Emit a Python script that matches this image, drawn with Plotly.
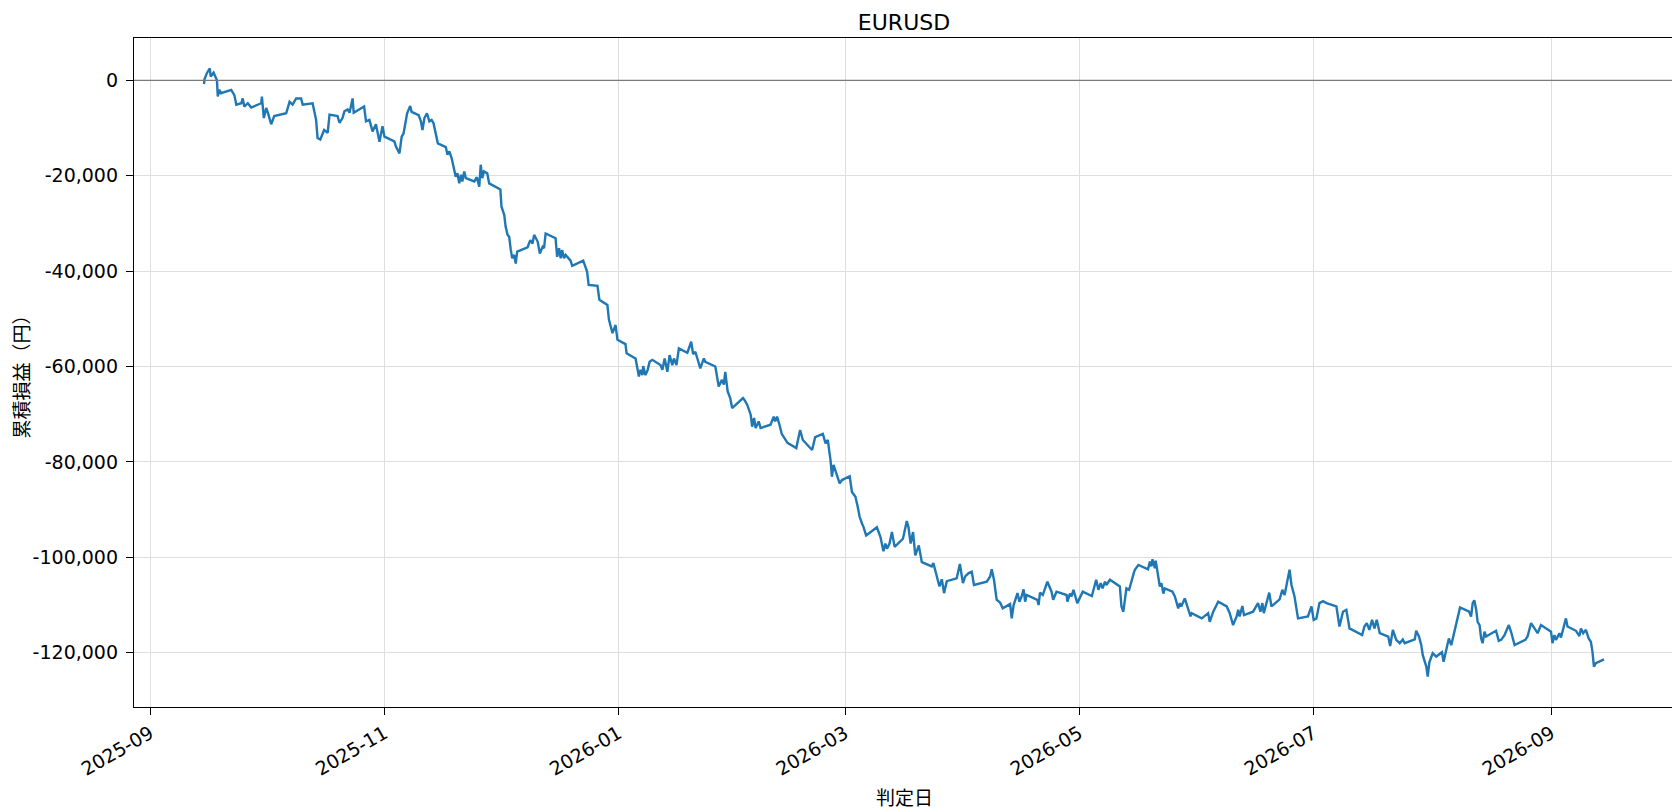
import pandas as pd
import plotly.graph_objects as go

title = "EURUSD"
x_label = "判定日"
y_label = "累積損益（円）"

# cumulative P/L per judgement time (yen)
dates = [
    "2025-09-15 00:00", "2025-09-15 03:00", "2025-09-15 18:00", "2025-09-16 12:00", "2025-09-16 18:00",
    "2025-09-17 12:00", "2025-09-18 09:00", "2025-09-18 14:00", "2025-09-19 00:00", "2025-09-19 10:00",
    "2025-09-22 02:00", "2025-09-22 22:00", "2025-09-23 10:00", "2025-09-24 17:00", "2025-09-25 02:00",
    "2025-09-25 12:00", "2025-09-26 10:00", "2025-09-27 07:00", "2025-09-29 22:00", "2025-09-30 02:00",
    "2025-09-30 14:00", "2025-10-01 05:00", "2025-10-01 19:00", "2025-10-02 12:00", "2025-10-03 07:00",
    "2025-10-06 10:00", "2025-10-07 07:00", "2025-10-08 02:00", "2025-10-09 00:00", "2025-10-10 07:00",
    "2025-10-10 17:00", "2025-10-13 07:00", "2025-10-14 05:00", "2025-10-14 14:00", "2025-10-15 07:00",
    "2025-10-16 07:00", "2025-10-17 05:00", "2025-10-17 17:00", "2025-10-19 19:00", "2025-10-20 07:00",
    "2025-10-21 02:00", "2025-10-21 14:00", "2025-10-22 10:00", "2025-10-22 22:00", "2025-10-23 17:00",
    "2025-10-24 00:00", "2025-10-26 17:00", "2025-10-27 05:00", "2025-10-28 02:00", "2025-10-28 22:00",
    "2025-10-29 19:00", "2025-10-30 17:00", "2025-10-31 12:00", "2025-11-01 00:00", "2025-11-03 14:00",
    "2025-11-04 00:00", "2025-11-04 22:00", "2025-11-05 12:00", "2025-11-06 00:00", "2025-11-06 22:00",
    "2025-11-07 17:00", "2025-11-08 02:00", "2025-11-09 22:00", "2025-11-10 12:00", "2025-11-10 22:00",
    "2025-11-11 10:00", "2025-11-12 02:00", "2025-11-12 17:00", "2025-11-13 07:00", "2025-11-13 19:00",
    "2025-11-14 22:00", "2025-11-17 00:00", "2025-11-17 10:00", "2025-11-17 22:00", "2025-11-18 12:00",
    "2025-11-19 05:00", "2025-11-19 14:00", "2025-11-20 00:00", "2025-11-20 12:00", "2025-11-20 22:00",
    "2025-11-21 07:00", "2025-11-21 19:00", "2025-11-22 05:00", "2025-11-24 10:00", "2025-11-25 02:00",
    "2025-11-25 17:00", "2025-11-26 02:00", "2025-11-26 12:00", "2025-11-26 22:00", "2025-11-27 19:00",
    "2025-11-28 07:00", "2025-12-01 05:00", "2025-12-01 12:00", "2025-12-02 05:00", "2025-12-02 14:00",
    "2025-12-03 02:00", "2025-12-03 12:00", "2025-12-03 22:00", "2025-12-04 07:00", "2025-12-04 19:00",
    "2025-12-05 05:00", "2025-12-05 14:00", "2025-12-08 07:00", "2025-12-09 00:00", "2025-12-09 14:00",
    "2025-12-10 00:00", "2025-12-10 22:00", "2025-12-11 12:00", "2025-12-12 05:00", "2025-12-12 14:00",
    "2025-12-13 00:00", "2025-12-15 14:00", "2025-12-16 00:00", "2025-12-16 12:00", "2025-12-16 22:00",
    "2025-12-17 07:00", "2025-12-17 19:00", "2025-12-18 05:00", "2025-12-19 12:00", "2025-12-19 22:00",
    "2025-12-22 19:00", "2025-12-23 19:00", "2025-12-24 05:00", "2025-12-26 12:00", "2025-12-27 00:00",
    "2025-12-29 02:00", "2025-12-29 12:00", "2025-12-30 10:00", "2025-12-31 05:00", "2025-12-31 17:00",
    "2026-01-02 19:00", "2026-01-03 02:00", "2026-01-05 10:00", "2026-01-06 07:00", "2026-01-06 17:00",
    "2026-01-07 05:00", "2026-01-07 10:00", "2026-01-08 00:00", "2026-01-08 14:00", "2026-01-09 02:00",
    "2026-01-09 19:00", "2026-01-11 22:00", "2026-01-12 10:00", "2026-01-13 00:00", "2026-01-13 17:00",
    "2026-01-14 07:00", "2026-01-15 00:00", "2026-01-15 10:00", "2026-01-16 02:00", "2026-01-16 17:00",
    "2026-01-18 22:00", "2026-01-19 22:00", "2026-01-20 10:00", "2026-01-21 00:00", "2026-01-22 07:00",
    "2026-01-23 05:00", "2026-01-23 14:00", "2026-01-26 05:00", "2026-01-27 02:00", "2026-01-27 22:00",
    "2026-01-28 10:00", "2026-01-28 19:00", "2026-01-29 10:00", "2026-01-30 02:00", "2026-01-30 14:00",
    "2026-01-31 00:00", "2026-02-02 10:00", "2026-02-02 19:00", "2026-02-03 12:00", "2026-02-04 10:00",
    "2026-02-04 19:00", "2026-02-05 07:00", "2026-02-05 17:00", "2026-02-06 12:00", "2026-02-07 00:00",
    "2026-02-09 14:00", "2026-02-10 10:00", "2026-02-10 19:00", "2026-02-11 07:00", "2026-02-11 22:00",
    "2026-02-12 12:00", "2026-02-14 00:00", "2026-02-16 07:00", "2026-02-16 22:00", "2026-02-17 07:00",
    "2026-02-18 00:00", "2026-02-20 10:00", "2026-02-21 05:00", "2026-02-23 05:00", "2026-02-23 22:00",
    "2026-02-24 12:00", "2026-02-25 05:00", "2026-02-25 14:00", "2026-02-26 00:00", "2026-02-26 17:00",
    "2026-02-27 14:00", "2026-02-28 05:00", "2026-03-02 05:00", "2026-03-02 19:00", "2026-03-03 17:00",
    "2026-03-04 07:00", "2026-03-04 19:00", "2026-03-05 10:00", "2026-03-05 19:00", "2026-03-06 12:00",
    "2026-03-09 07:00", "2026-03-10 05:00", "2026-03-11 00:00", "2026-03-11 12:00", "2026-03-11 22:00",
    "2026-03-12 14:00", "2026-03-13 05:00", "2026-03-13 22:00", "2026-03-16 02:00", "2026-03-17 02:00",
    "2026-03-17 12:00", "2026-03-18 02:00", "2026-03-18 17:00", "2026-03-19 07:00", "2026-03-20 05:00",
    "2026-03-21 00:00", "2026-03-23 14:00", "2026-03-24 00:00", "2026-03-24 22:00", "2026-03-25 14:00",
    "2026-03-26 05:00", "2026-03-26 19:00", "2026-03-27 12:00", "2026-03-30 02:00", "2026-03-30 22:00",
    "2026-03-31 17:00", "2026-04-01 07:00", "2026-04-02 05:00", "2026-04-03 00:00", "2026-04-03 14:00",
    "2026-04-06 22:00", "2026-04-07 19:00", "2026-04-08 05:00", "2026-04-08 19:00", "2026-04-09 12:00",
    "2026-04-10 10:00", "2026-04-11 02:00", "2026-04-13 00:00", "2026-04-13 10:00", "2026-04-13 22:00",
    "2026-04-14 22:00", "2026-04-15 10:00", "2026-04-16 00:00", "2026-04-16 12:00", "2026-04-16 22:00",
    "2026-04-17 07:00", "2026-04-20 02:00", "2026-04-20 10:00", "2026-04-20 19:00", "2026-04-21 12:00",
    "2026-04-22 17:00", "2026-04-23 19:00", "2026-04-24 05:00", "2026-04-25 02:00", "2026-04-27 17:00",
    "2026-04-27 22:00", "2026-04-28 14:00", "2026-04-29 00:00", "2026-04-29 12:00", "2026-04-30 12:00",
    "2026-05-01 22:00", "2026-05-04 07:00", "2026-05-05 10:00", "2026-05-06 00:00", "2026-05-06 14:00",
    "2026-05-07 02:00", "2026-05-07 17:00", "2026-05-08 02:00", "2026-05-09 00:00", "2026-05-11 14:00",
    "2026-05-12 00:00", "2026-05-12 12:00", "2026-05-13 07:00", "2026-05-14 00:00", "2026-05-15 05:00",
    "2026-05-15 12:00", "2026-05-16 10:00", "2026-05-18 22:00", "2026-05-19 10:00", "2026-05-19 19:00",
    "2026-05-20 02:00", "2026-05-20 17:00", "2026-05-20 22:00", "2026-05-21 14:00", "2026-05-22 00:00",
    "2026-05-22 10:00", "2026-05-22 22:00", "2026-05-23 07:00", "2026-05-25 07:00", "2026-05-25 22:00",
    "2026-05-26 19:00", "2026-05-27 05:00", "2026-05-27 14:00", "2026-05-28 12:00", "2026-05-29 10:00",
    "2026-05-30 00:00", "2026-05-30 07:00", "2026-06-01 22:00", "2026-06-03 14:00", "2026-06-04 00:00",
    "2026-06-04 22:00", "2026-06-06 05:00", "2026-06-08 10:00", "2026-06-09 05:00", "2026-06-10 02:00",
    "2026-06-11 00:00", "2026-06-11 10:00", "2026-06-11 19:00", "2026-06-12 12:00", "2026-06-12 22:00",
    "2026-06-15 07:00", "2026-06-16 14:00", "2026-06-17 05:00", "2026-06-17 17:00", "2026-06-18 02:00",
    "2026-06-19 12:00", "2026-06-20 02:00", "2026-06-22 05:00", "2026-06-22 22:00", "2026-06-23 12:00",
    "2026-06-24 19:00", "2026-06-25 07:00", "2026-06-26 02:00", "2026-06-27 00:00", "2026-06-29 14:00",
    "2026-06-30 12:00", "2026-07-01 02:00", "2026-07-01 19:00", "2026-07-02 14:00", "2026-07-03 12:00",
    "2026-07-04 10:00", "2026-07-07 00:00", "2026-07-07 19:00", "2026-07-08 17:00", "2026-07-09 14:00",
    "2026-07-10 10:00", "2026-07-13 17:00", "2026-07-14 07:00", "2026-07-14 22:00", "2026-07-15 14:00",
    "2026-07-16 07:00", "2026-07-16 22:00", "2026-07-17 12:00", "2026-07-18 07:00", "2026-07-20 12:00",
    "2026-07-21 00:00", "2026-07-21 17:00", "2026-07-22 14:00", "2026-07-23 12:00", "2026-07-24 07:00",
    "2026-07-24 19:00", "2026-07-27 10:00", "2026-07-27 19:00", "2026-07-28 12:00", "2026-07-29 02:00",
    "2026-07-29 12:00", "2026-07-30 10:00", "2026-07-30 19:00", "2026-07-31 05:00", "2026-07-31 17:00",
    "2026-08-01 02:00", "2026-08-02 00:00", "2026-08-03 12:00", "2026-08-03 22:00", "2026-08-04 10:00",
    "2026-08-04 19:00", "2026-08-05 07:00", "2026-08-05 22:00", "2026-08-06 19:00", "2026-08-07 05:00",
    "2026-08-08 05:00", "2026-08-10 14:00", "2026-08-11 02:00", "2026-08-11 12:00", "2026-08-11 22:00",
    "2026-08-12 10:00", "2026-08-12 19:00", "2026-08-13 07:00", "2026-08-13 17:00", "2026-08-14 02:00",
    "2026-08-14 14:00", "2026-08-15 00:00", "2026-08-17 14:00", "2026-08-18 07:00", "2026-08-18 22:00",
    "2026-08-19 19:00", "2026-08-20 10:00", "2026-08-20 22:00", "2026-08-21 12:00", "2026-08-22 10:00",
    "2026-08-25 05:00", "2026-08-25 19:00", "2026-08-26 17:00", "2026-08-27 14:00", "2026-08-28 10:00",
    "2026-08-29 07:00", "2026-08-31 22:00", "2026-09-01 07:00", "2026-09-01 19:00", "2026-09-02 05:00",
    "2026-09-03 02:00", "2026-09-03 12:00", "2026-09-04 10:00", "2026-09-04 19:00", "2026-09-05 05:00",
    "2026-09-07 10:00", "2026-09-08 07:00", "2026-09-08 17:00", "2026-09-09 07:00", "2026-09-10 00:00",
    "2026-09-10 17:00", "2026-09-11 07:00", "2026-09-11 17:00", "2026-09-12 02:00", "2026-09-12 14:00",
    "2026-09-14 17:00",
]

pnl = [
    -800, 200, 1500, 2500, 800,
    1600, 0, -3400, -2000, -2700,
    -2000, -3100, -5100, -4800, -3800,
    -5500, -4800, -5700, -4800, -3400,
    -7900, -5800, -7200, -9200, -7500,
    -6900, -4500, -5100, -3800, -3800,
    -5100, -4800, -8300, -12100, -12400,
    -10400, -11000, -7200, -7500, -8900,
    -7900, -6500, -6100, -6800, -3800,
    -6800, -5500, -8600, -8300, -10700,
    -9200, -12900, -9600, -11800, -12800,
    -13900, -15300, -11800, -11100, -6900,
    -5400, -6600, -7300, -8600, -10400,
    -7900, -6900, -8600, -8300, -9000,
    -13200, -14000, -15600, -14900, -16300,
    -19100, -20200, -19500, -21600, -19800,
    -21200, -19100, -20500, -21200, -20300,
    -22300, -17700, -20500, -19100, -19500,
    -21600, -22900, -26500, -28200, -30700,
    -32400, -32800, -35500, -37300, -36600,
    -38400, -35900, -35000, -33500, -34200,
    -32400, -33800, -36300, -34900, -35200,
    -32100, -33100, -37000, -35200, -37300,
    -35600, -37300, -36600, -37800, -38900,
    -37800, -40100, -42900, -43100, -46000,
    -47100, -50200, -53000, -51300, -54400,
    -55300, -57200, -58300, -62100, -60700,
    -61800, -59900, -61800, -60700, -59000,
    -58600, -59700, -60700, -58300, -61100,
    -57600, -59700, -58300, -59700, -56200,
    -57100, -54800, -57400, -56900, -60400,
    -58300, -59000, -60000, -64200, -62800,
    -63800, -61100, -65200, -66600, -68700,
    -68400, -66600, -67000, -68000, -70100,
    -72600, -70800, -72900, -71500, -72900,
    -72200, -70500, -71500, -70500, -72200,
    -74100, -76000, -77100, -74700, -73300,
    -75400, -77500, -74800, -74100, -76100,
    -75400, -79600, -83100, -80600, -82400,
    -84500, -83800, -83000, -86300, -87300,
    -89400, -91500, -92900, -93600, -95400,
    -93700, -95700, -98700, -97100, -98200,
    -97100, -94700, -97800, -96100, -92400,
    -93600, -97100, -94700, -99600, -97500,
    -101000, -101900, -101200, -104000, -106100,
    -104600, -107500, -105000, -104400, -101400,
    -105400, -104000, -103300, -103000, -105800,
    -105100, -104000, -102500, -104700, -108900,
    -109500, -110700, -109800, -112800, -110000,
    -107500, -109300, -108200, -106700, -109300,
    -107900, -108900, -110000, -107400, -107900,
    -105100, -107200, -108900, -107200, -107900,
    -109300, -107600, -108200, -106800, -109600,
    -107200, -108100, -104700, -106800, -105400,
    -106500, -105100, -105800, -104700, -106100,
    -110300, -111400, -106500, -106800, -103300,
    -102600, -101600, -102500, -100900, -101900,
    -100400, -102300, -100700, -104000, -106100,
    -105400, -107600, -106500, -107200, -108200,
    -110700, -109600, -110300, -108600, -110700,
    -112400, -111700, -112800, -111700, -113500,
    -111400, -109300, -110300, -111700, -114200,
    -112400, -111000, -112400, -110200, -112100,
    -111400, -109600, -111400, -109600, -111700,
    -107400, -110300, -108800, -106800, -107900,
    -102600, -105800, -108200, -112800, -112400,
    -110300, -113100, -112800, -109600, -109200,
    -109600, -110300, -114500, -111400, -111000,
    -114900, -116300, -114500, -113800, -115200,
    -113100, -114900, -113100, -115900, -116600,
    -118600, -115200, -117300, -118000, -117200,
    -118000, -117200, -115400, -116600, -118300,
    -120500, -122900, -125000, -122000, -120800,
    -120100, -120800, -119900, -121900, -120100,
    -119100, -117000, -118400, -115200, -114200,
    -110500, -111400, -112400, -109600, -109000,
    -111000, -113500, -114200, -117000, -118000,
    -115600, -116600, -115400, -117500, -117300,
    -116300, -114900, -114200, -115600, -118400,
    -117300, -116600, -113800, -114900, -115900,
    -114200, -115600, -118000, -116300, -117300,
    -115900, -116800, -114200, -112800, -114500,
    -115400, -116500, -114900, -115900, -115200,
    -117000, -117700, -119800, -122900, -122200,
    -121400,
]

y_ticks = [0, -20000, -40000, -60000, -80000, -100000, -120000]
y_tick_labels = [f"{v:,}" for v in y_ticks]

font_family = "DejaVu Sans, Noto Sans CJK JP, sans-serif"

# matplotlib style 5% padding around the data
d = pd.to_datetime(pd.Series(dates))
span = d.max() - d.min()
x_range = [d.min() - span * 0.05, d.max() + span * 0.05]
y_pad = (max(pnl) - min(pnl)) * 0.05
y_range = [min(pnl) - y_pad, max(pnl) + y_pad]

fig = go.Figure()
fig.add_trace(go.Scatter(
    x=dates, y=pnl, mode="lines",
    line=dict(color="#1f77b4", width=2.4),
    showlegend=False,
))

# zero line (drawn on top, like the axhline in the original)
fig.add_hline(y=0, line_color="#7a7a7a", line_width=1.2, layer="above")

axis_common = dict(
    showline=True, linecolor="black", linewidth=1.3, mirror=True,
    ticks="outside", ticklen=7, tickcolor="black", tickwidth=1.3,
    showgrid=True, gridcolor="#dedede", gridwidth=1,
    zeroline=False,
    tickfont=dict(family=font_family, size=19, color="black"),
)

# the page body has an 8px margin, so the figure is 8px smaller on each side
fig.update_layout(
    width=1672, height=804,
    paper_bgcolor="white", plot_bgcolor="white",
    margin=dict(l=126, r=6, t=30, b=105),
    font=dict(family=font_family, color="black"),
    title=dict(text=title, x=0.5, xref="paper", y=1 - 14 / 804, yref="container",
               xanchor="center", yanchor="middle",
               font=dict(family=font_family, size=22, color="black")),
    xaxis=dict(
        type="date", range=x_range,
        tick0="2025-09-01", dtick="M2", tickformat="%Y-%m",
        tickangle=-30,
        **axis_common,
    ),
    yaxis=dict(
        range=y_range,
        tickvals=y_ticks, ticktext=y_tick_labels,
        ticklabelstandoff=4,
        **axis_common,
    ),
    annotations=[
        dict(text=x_label, xref="paper", yref="paper", x=0.5, y=0,
             yshift=-91, xanchor="center", yanchor="middle", showarrow=False,
             font=dict(family=font_family, size=19, color="black")),
        dict(text=y_label, xref="paper", yref="paper", x=0, y=0.5,
             xshift=-113, xanchor="center", yanchor="middle", textangle=-90,
             showarrow=False,
             font=dict(family=font_family, size=19, color="black")),
    ],
)

fig.write_html("out.html")
